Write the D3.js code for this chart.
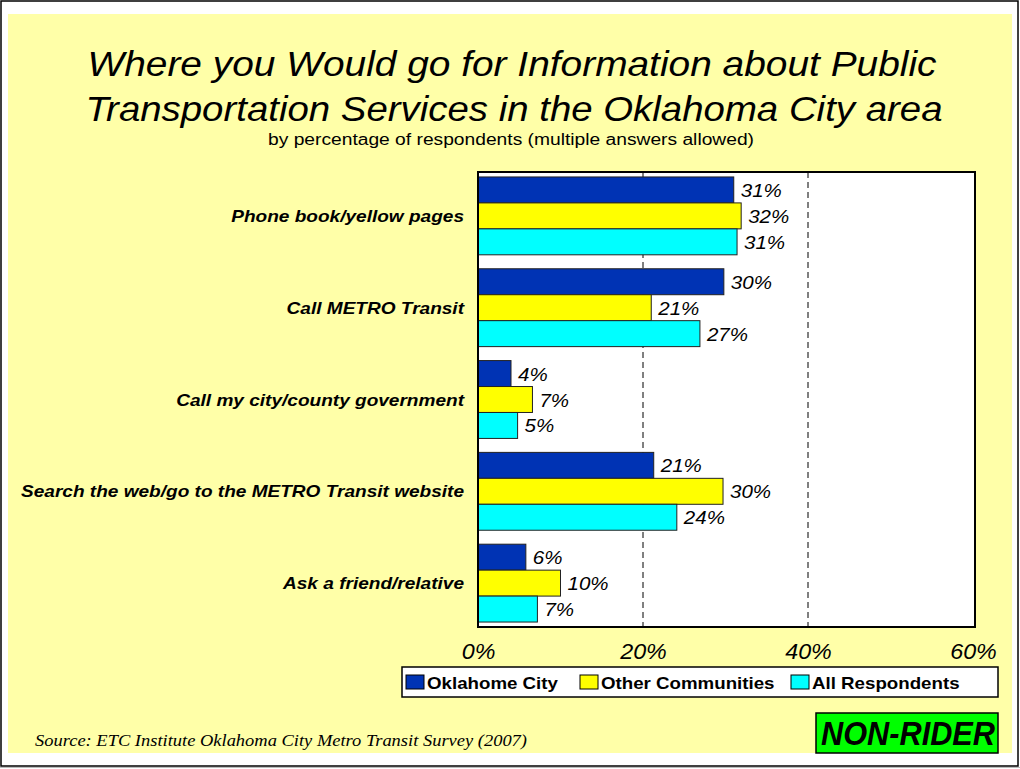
<!DOCTYPE html>
<html><head><meta charset="utf-8">
<script src="https://cdn.jsdelivr.net/npm/d3@7"></script>
<style>body{margin:0;background:#fff}svg{display:block}</style>
</head><body>
<svg id="c" width="1020" height="769"></svg>
<script>
const categories = ["Phone book/yellow pages","Call METRO Transit","Call my city/county government","Search the web/go to the METRO Transit website","Ask a friend/relative"];
const seriesNames = ["Oklahome City","Other Communities","All Respondents"];
const okcValues = [31.0, 29.8, 4.0, 21.3, 5.8];
const otherValues = [31.9, 21.0, 6.6, 29.7, 10.0];
const allValues = [31.4, 26.9, 4.8, 24.1, 7.2];
const xTicks = [0, 20, 40, 60];
const colors = ["#0033b4", "#ffff00", "#00ffff"];

const svg = d3.select("#c");
const tf = "Arial, 'Liberation Sans', sans-serif";
function stretch(sel, k){
  sel.each(function(){ const w=this.getComputedTextLength(); this.setAttribute("textLength", w*k); this.setAttribute("lengthAdjust","spacingAndGlyphs"); });
}

svg.append("rect").attr("x",1).attr("y",1).attr("width",1017).attr("height",765).attr("fill","#fff").attr("stroke","#000").attr("stroke-width",1.5);
svg.append("line").attr("x1",0).attr("x2",1020).attr("y1",767.5).attr("y2",767.5).attr("stroke","#bbb");
svg.append("rect").attr("x",8).attr("y",14).attr("width",1004).attr("height",739).attr("fill","#ffffa8");

// title
svg.append("text").attr("x",512).attr("y",76).attr("text-anchor","middle").attr("font-family",tf).attr("font-style","italic").attr("font-size",35).attr("textLength",849).attr("lengthAdjust","spacingAndGlyphs").text("Where you Would go for Information about Public");
svg.append("text").attr("x",514).attr("y",121).attr("text-anchor","middle").attr("font-family",tf).attr("font-style","italic").attr("font-size",35).attr("textLength",857).attr("lengthAdjust","spacingAndGlyphs").text("Transportation Services in the Oklahoma City area");
svg.append("text").attr("x",511).attr("y",145).attr("text-anchor","middle").attr("font-family",tf).attr("font-size",16).attr("textLength",486).attr("lengthAdjust","spacingAndGlyphs").text("by percentage of respondents (multiple answers allowed)");

const L = 478, R = 973, T = 172, B = 627;
const x = d3.scaleLinear().domain([0,60]).range([L,R]);
const y0 = d3.scaleBand().domain(categories).range([T,B]).paddingInner(0.152).paddingOuter(0.054);
const y1 = d3.scaleBand().domain(seriesNames).range([0,y0.bandwidth()]);

svg.append("rect").attr("x",L).attr("y",T).attr("width",R+2-L).attr("height",B-T).attr("fill","#fff");

// grid
svg.append("g").selectAll("line").data([20,40]).join("line")
  .attr("x1",d=>x(d)).attr("x2",d=>x(d)).attr("y1",T).attr("y2",B)
  .attr("stroke","#000").attr("stroke-width",1).attr("stroke-dasharray","6,4");

const series = [okcValues, otherValues, allValues];
const rows = [];
categories.forEach((c,i)=>series.forEach((s,j)=>rows.push({c, s:seriesNames[j], v:s[i], j})));

const g = svg.append("g");
g.selectAll("rect").data(rows).join("rect")
  .attr("x",x(0)).attr("y",d=>y0(d.c)+y1(d.s))
  .attr("width",d=>x(d.v)-x(0)).attr("height",y1.bandwidth())
  .attr("fill",d=>colors[d.j]).attr("stroke","#222").attr("stroke-width",1);
g.selectAll("text").data(rows).join("text")
  .attr("x",d=>x(d.v)+7).attr("y",d=>y0(d.c)+y1(d.s)+y1.bandwidth()/2+7)
  .attr("font-family",tf).attr("font-style","italic").attr("font-size",19)
  .text(d=>d3.format(".0f")(d.v)+"%")
  .call(stretch, 1.08);

svg.append("rect").attr("x",L).attr("y",T).attr("width",R+2-L).attr("height",B-T).attr("fill","none").attr("stroke","#000").attr("stroke-width",2);

// category labels
svg.append("g").selectAll("text").data(categories).join("text")
  .attr("x",464).attr("y",d=>y0(d)+y0.bandwidth()/2+6).attr("text-anchor","end")
  .attr("font-family",tf).attr("font-style","italic").attr("font-weight","bold").attr("font-size",17)
  .text(d=>d)
  .call(stretch, 1.12);

// x axis
const xa = svg.append("g").attr("transform",`translate(0,${B})`).call(d3.axisBottom(x).tickValues(xTicks).tickSize(0).tickPadding(13).tickFormat(d=>d+"%"));
xa.select(".domain").remove();
xa.selectAll("text").attr("font-family",tf).attr("font-style","italic").attr("font-size",22).attr("fill","#000").attr("dy","0.85em").call(stretch, 1.06);

// legend
const lg = svg.append("g");
lg.append("rect").attr("x",402).attr("y",667).attr("width",596).attr("height",30).attr("fill","#fff").attr("stroke","#000").attr("stroke-width",1.5);
const lx = [406, 580, 791];
seriesNames.forEach((n,i)=>{
  lg.append("rect").attr("x",lx[i]).attr("y",675).attr("width",18).attr("height",14).attr("fill",colors[i]).attr("stroke","#000").attr("stroke-width",1);
  lg.append("text").attr("x",lx[i]+21).attr("y",689).attr("font-family",tf).attr("font-weight","bold").attr("font-size",17).text(n).call(stretch, 1.1);
});

// source
svg.append("text").attr("x",35).attr("y",746).attr("font-family","'Liberation Serif','Times New Roman',serif").attr("font-style","italic").attr("font-size",17).attr("textLength",492).attr("lengthAdjust","spacingAndGlyphs").text("Source:  ETC Institute Oklahoma City Metro Transit Survey (2007)");

// badge
svg.append("rect").attr("x",816).attr("y",713).attr("width",182).attr("height",40).attr("fill","#00ff00").attr("stroke","#000").attr("stroke-width",1.5);
svg.append("text").attr("x",908).attr("y",745).attr("text-anchor","middle").attr("font-family",tf).attr("font-style","italic").attr("font-weight","bold").attr("font-size",33).attr("textLength",174).attr("lengthAdjust","spacingAndGlyphs").text("NON-RIDER");
</script>
</body></html>
